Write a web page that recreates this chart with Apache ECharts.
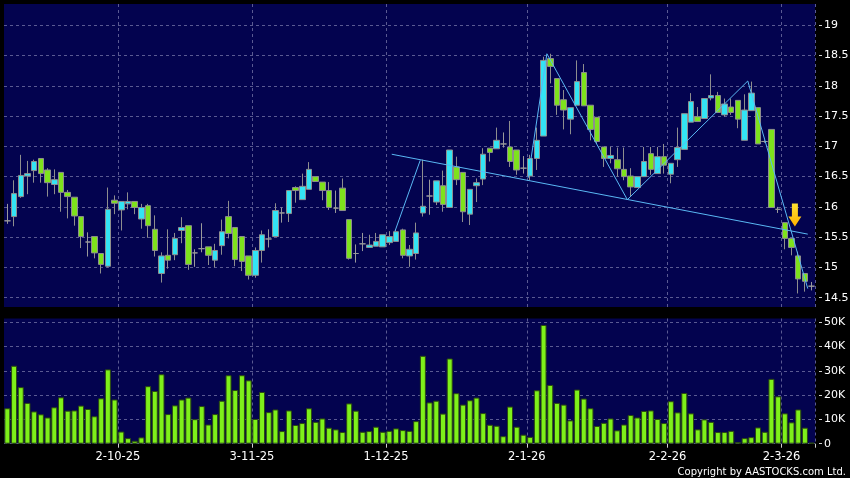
<!DOCTYPE html>
<html><head><meta charset="utf-8">
<script src="https://cdn.jsdelivr.net/npm/echarts@6/dist/echarts.min.js"></script>
<style>html,body{margin:0;padding:0;background:#000;}#c{width:850px;height:478px;}</style>
</head><body><div id="c"></div>
<script>
// ---------- DATA ----------
const dates = [
"8-9-25","9-9-25","10-9-25","11-9-25","12-9-25","15-9-25","16-9-25","17-9-25","18-9-25","19-9-25","22-9-25","23-9-25","24-9-25","25-9-25","26-9-25","29-9-25","30-9-25",
"2-10-25","3-10-25","6-10-25","8-10-25","9-10-25","10-10-25","13-10-25","14-10-25","15-10-25","16-10-25","17-10-25","20-10-25","21-10-25","22-10-25","23-10-25","24-10-25","27-10-25","28-10-25","30-10-25","31-10-25",
"3-11-25","4-11-25","5-11-25","6-11-25","7-11-25","10-11-25","11-11-25","12-11-25","13-11-25","14-11-25","17-11-25","18-11-25","19-11-25","20-11-25","21-11-25","24-11-25","25-11-25","26-11-25","27-11-25","28-11-25",
"1-12-25","2-12-25","3-12-25","4-12-25","5-12-25","8-12-25","9-12-25","10-12-25","11-12-25","12-12-25","15-12-25","16-12-25","17-12-25","18-12-25","19-12-25","22-12-25","23-12-25","24-12-25","29-12-25","30-12-25","31-12-25",
"2-1-26","5-1-26","6-1-26","7-1-26","8-1-26","9-1-26","12-1-26","13-1-26","14-1-26","15-1-26","16-1-26","19-1-26","20-1-26","21-1-26","22-1-26","23-1-26","26-1-26","27-1-26","28-1-26","29-1-26","30-1-26",
"2-2-26","3-2-26","4-2-26","5-2-26","6-2-26","9-2-26","10-2-26","11-2-26","12-2-26","13-2-26","16-2-26","20-2-26","23-2-26","24-2-26","25-2-26","26-2-26","27-2-26",
"2-3-26","3-3-26","4-3-26","5-3-26","6-3-26"];
const tickLabels = ["2-10-25","3-11-25","1-12-25","2-1-26","2-2-26","2-3-26"];

const open = [15.77,15.84,16.17,16.51,16.60,16.80,16.61,16.37,16.57,16.24,16.16,15.84,15.42,15.51,15.23,15.02,16.11,15.95,16.05,16.09,
15.80,16.02,15.63,14.90,15.20,15.21,15.61,15.69,15.24,15.31,15.34,15.12,15.36,15.84,15.66,15.51,15.19,14.87,15.28,15.47,
15.51,15.90,15.89,16.32,16.12,16.29,16.50,16.41,16.27,15.98,16.31,15.79,15.23,15.39,15.33,15.35,15.34,15.41,15.43,15.62,
15.19,15.23,15.90,16.18,16.08,16.35,15.99,16.66,16.57,15.88,16.35,16.46,16.97,16.96,17.04,16.99,16.94,16.64,16.51,16.80,
17.17,18.45,18.12,17.77,17.45,17.68,18.22,17.68,17.48,16.99,16.80,16.78,16.62,16.51,16.32,16.50,16.88,16.55,16.83,16.54,
16.78,16.95,17.40,17.49,17.46,17.80,17.84,17.52,17.65,17.76,17.10,17.59,17.64,17.08,17.28,15.96,15.74,15.48,15.19,14.90,14.69];
const close = [15.77,16.22,16.52,16.55,16.75,16.55,16.40,16.45,16.24,16.17,15.85,15.51,15.42,15.24,15.05,15.96,16.06,16.09,16.09,15.99,
15.99,15.69,15.28,15.19,15.12,15.48,15.66,15.05,15.24,15.31,15.20,15.28,15.59,15.56,15.13,15.10,14.87,15.28,15.54,15.47,
15.94,15.90,16.27,16.27,16.34,16.62,16.42,16.27,15.99,15.98,15.94,15.15,15.23,15.39,15.37,15.43,15.54,15.51,15.59,15.20,
15.30,15.57,16.01,16.18,16.43,16.04,16.94,16.45,15.92,16.29,16.40,16.87,16.90,17.10,17.04,16.75,16.61,16.64,16.80,17.10,
18.42,18.32,17.68,17.60,17.64,18.07,17.67,17.28,17.08,16.80,16.85,16.63,16.50,16.33,16.50,16.75,16.62,16.83,16.69,16.72,
16.98,17.54,17.74,17.41,17.79,17.84,17.56,17.70,17.56,17.45,17.60,17.88,17.04,17.08,15.99,15.96,15.48,15.33,14.81,14.77,14.69];
const low = [15.72,15.68,16.15,16.21,16.40,16.40,16.17,16.21,15.92,15.81,15.69,15.32,15.18,15.15,14.90,15.00,15.88,15.61,15.96,15.88,
15.64,15.49,15.18,14.75,14.98,15.12,15.40,14.96,15.01,15.25,15.04,15.00,15.21,15.48,15.02,14.94,14.80,14.83,15.08,15.33,
15.51,15.74,15.75,16.07,16.12,16.29,16.42,16.11,15.95,15.90,15.94,15.13,15.08,15.27,15.33,15.35,15.34,15.37,15.43,15.15,
15.01,15.13,15.84,15.87,16.03,15.92,15.99,16.36,15.75,15.70,16.08,16.36,16.75,16.96,16.98,16.66,16.53,16.55,16.44,16.61,
17.17,18.04,17.52,17.28,17.20,17.68,17.67,17.10,17.04,16.66,16.72,16.50,16.44,16.17,16.32,16.50,16.53,16.55,16.55,16.39,
16.66,16.95,17.40,17.41,17.46,17.76,17.56,17.49,17.52,17.30,17.10,17.59,17.04,17.06,15.99,15.90,15.30,15.20,14.57,14.60,14.62];
const high = [16.05,16.44,16.86,16.76,16.78,16.80,16.64,16.62,16.57,16.28,16.16,15.84,15.58,15.51,15.23,16.32,16.19,16.09,16.24,16.09,
16.05,16.05,15.86,15.25,15.63,15.57,15.83,15.69,15.30,15.73,15.34,15.39,15.79,16.10,15.66,15.51,15.19,15.33,15.61,15.63,
16.06,15.99,16.27,16.34,16.55,16.74,16.50,16.41,16.41,16.27,16.47,15.79,15.38,15.57,15.54,15.57,15.54,15.60,15.63,15.64,
15.37,15.74,16.78,16.45,16.43,16.60,16.94,16.83,16.57,16.29,16.47,16.97,16.97,17.31,17.23,17.42,16.94,16.84,16.86,17.31,
18.48,18.53,18.12,17.93,17.64,18.42,18.36,17.68,17.48,16.99,16.99,16.98,16.98,16.64,16.50,16.99,16.99,16.99,17.04,16.72,
17.31,17.54,17.88,17.65,17.79,18.19,17.90,17.79,17.79,17.76,17.86,18.07,17.64,17.10,17.28,16.00,15.74,15.48,15.26,14.90,14.76];
// volume in thousands of shares
const volumeK = [14.6,32.1,23.3,16.8,13.3,12.1,10.8,15.0,19.1,13.6,13.7,15.7,14.3,11.3,18.7,30.6,18.2,5.0,2.3,1.2,
2.6,23.7,21.7,28.6,12.2,15.8,18.2,19.0,10.1,15.5,7.9,12.2,17.7,28.2,22.1,28.2,26.1,10.2,21.3,13.0,14.1,
5.2,13.7,7.7,8.5,14.6,9.0,10.4,6.6,5.9,4.8,16.6,13.6,4.9,5.2,7.0,4.9,5.3,6.3,5.6,5.3,9.3,36.2,17.0,17.7,12.4,35.1,20.8,16.1,17.9,19.0,12.6,7.8,7.4,3.1,15.3,7.0,3.7,2.8,22.0,48.9,24.2,
16.8,16.1,9.6,22.3,18.6,14.6,7.3,8.6,10.4,5.5,7.9,11.8,10.8,13.5,13.7,10.2,8.5,17.5,12.9,20.9,12.5,5.9,10.0,9.0,4.8,4.8,5.3,0.6,2.3,2.7,6.7,4.9,26.7,19.5,12.5,8.8,14.1,6.6,0.4];

const priceAxis = {min: 14.5, max: 19, step: 0.5};
const volumeAxis = {min: 0, max: 50000, step: 10000};
// drawn trendlines, as [bar index, price]
const trendRise = [[57.84, 15.60], [61.6, 16.77]];
const trendSupport = [[57.35, 16.87], [119.42, 15.55]];
const trendZigzag = [[77.7, 16.48], [80.5, 18.53], [92.5, 16.12], [110.47, 18.08], [119.42, 14.65]];
const arrowMark = [[117.5, 15.865]];

// ---------- LAYOUT ----------
const L = 4, W = 811;
const P_TOP = 4, P_BOT = 307, P_HI = 25.3, P_LO = 297.7;
const V_TOP = 318.5, V_BOT = 443.7, V_HI = 322.3;
const ppu = (P_LO - P_HI) / (priceAxis.max - priceAxis.min);
const pMin = priceAxis.min - (P_BOT - P_LO) / ppu;
const pMax = priceAxis.max + (P_HI - P_TOP) / ppu;
const ppv = (V_BOT - V_HI) / (volumeAxis.max - volumeAxis.min);
const vMax = volumeAxis.max + (V_HI - V_TOP) / ppv;

const NAVY = '#03034f';
const GRIDC = '#5a5a92';
const FONT = 'DejaVu Sans';
const isLbl = (i) => tickLabels.indexOf(dates[i]) >= 0;

const candles = dates.map((d, i) => [open[i], close[i], low[i], high[i]]);
const volumes = volumeK.map(v => v * 1000);

const chart = echarts.init(document.getElementById('c'), null, {renderer: 'canvas'});
const hiddenCat = (g) => ({type: 'category', gridIndex: g, data: dates, boundaryGap: true, show: false});
chart.setOption({
  backgroundColor: '#000',
  animation: false,
  grid: [
    {left: L, width: W, top: P_TOP, height: P_BOT - P_TOP, show: true, backgroundColor: NAVY, borderWidth: 0, outerBoundsMode: 'none'},
    {left: L, width: W, top: P_HI, height: P_LO - P_HI, show: false, outerBoundsMode: 'none'},
    {left: L, width: W, top: V_TOP, height: V_BOT - V_TOP, show: true, backgroundColor: NAVY, borderWidth: 0, outerBoundsMode: 'none'},
    {left: L, width: W, top: V_HI, height: V_BOT - V_HI, show: false, outerBoundsMode: 'none'}
  ],
  xAxis: [
    {type: 'category', gridIndex: 0, data: dates, boundaryGap: true,
     axisLine: {show: false}, axisTick: {show: false}, axisLabel: {show: false},
     splitLine: {show: true, interval: (i) => isLbl(i), lineStyle: {color: GRIDC, type: [3, 3], width: 1}}},
    hiddenCat(1),
    {type: 'category', gridIndex: 2, data: dates, boundaryGap: true, position: 'bottom',
     axisLine: {show: false},
     axisTick: {show: true, interval: (i) => isLbl(i), length: 4, lineStyle: {color: '#cfcfcf'}},
     axisLabel: {show: true, interval: (i) => isLbl(i), color: '#ffffff', fontFamily: FONT, fontSize: 11.5, margin: 7, padding: [0, 6.7, 0, 0]},
     splitLine: {show: true, interval: (i) => isLbl(i), lineStyle: {color: GRIDC, type: [3, 3], width: 1}}},
    hiddenCat(3),
    {type: 'value', gridIndex: 0, min: -0.5, max: dates.length - 0.5, show: false}
  ],
  yAxis: [
    {type: 'value', gridIndex: 0, min: pMin, max: pMax, show: false},
    {type: 'value', gridIndex: 1, position: 'right', offset: 4, min: priceAxis.min, max: priceAxis.max, interval: priceAxis.step,
     axisLine: {show: false}, axisTick: {show: true, length: 3, lineStyle: {color: '#cfcfcf'}},
     axisLabel: {color: '#ffffff', fontFamily: FONT, fontSize: 11, margin: 5},
     splitLine: {show: true, lineStyle: {color: GRIDC, type: [3, 3], width: 1}}},
    {type: 'value', gridIndex: 2, min: 0, max: vMax, show: false},
    {type: 'value', gridIndex: 3, position: 'right', offset: 4, min: volumeAxis.min, max: volumeAxis.max, interval: volumeAxis.step,
     axisLine: {show: false}, axisTick: {show: true, length: 3, lineStyle: {color: '#cfcfcf'}},
     axisLabel: {color: '#ffffff', fontFamily: FONT, fontSize: 11, margin: 5,
       formatter: (v) => v === 0 ? '0' : (v / 1000) + 'K'},
     splitLine: {show: true, lineStyle: {color: GRIDC, type: [3, 3], width: 1}}}
  ],
  series: [
    {type: 'candlestick', xAxisIndex: 0, yAxisIndex: 0, data: candles, barWidth: 6,
     itemStyle: {color: '#33e4f4', color0: '#7ee21c', borderColor: '#8e8e8e', borderColor0: '#8e8e8e', borderColorDoji: '#9a9a9a', borderWidth: 1}},
    {type: 'line', xAxisIndex: 4, yAxisIndex: 0, data: trendRise, showSymbol: false, lineStyle: {color: '#5ab8f4', width: 1}},
    {type: 'line', xAxisIndex: 4, yAxisIndex: 0, data: trendSupport, showSymbol: false, lineStyle: {color: '#5ab8f4', width: 1}},
    {type: 'line', xAxisIndex: 4, yAxisIndex: 0, data: trendZigzag, showSymbol: false, lineStyle: {color: '#5ab8f4', width: 1}},
    {type: 'scatter', xAxisIndex: 4, yAxisIndex: 0, data: arrowMark, z: 10,
     symbol: 'path://M3,0 L9,0 L9,13 L12.5,13 L6,23 L-0.5,13 L3,13 Z', symbolSize: [13, 23],
     itemStyle: {color: new echarts.graphic.LinearGradient(0, 0, 0, 1, [{offset: 0, color: '#ffe230'}, {offset: 1, color: '#ffb000'}]), opacity: 1}},
    {type: 'bar', xAxisIndex: 2, yAxisIndex: 2, data: volumes, barWidth: 6,
     itemStyle: {color: '#7ef01a', borderColor: '#2c4a10', borderWidth: 1}}
  ],
  graphic: [
    {type: 'text', right: 4, bottom: 1, style: {text: 'Copyright by AASTOCKS.com Ltd.', fill: '#ffffff', fontFamily: FONT, fontSize: 10}}
  ]
});
</script>
</body></html>
